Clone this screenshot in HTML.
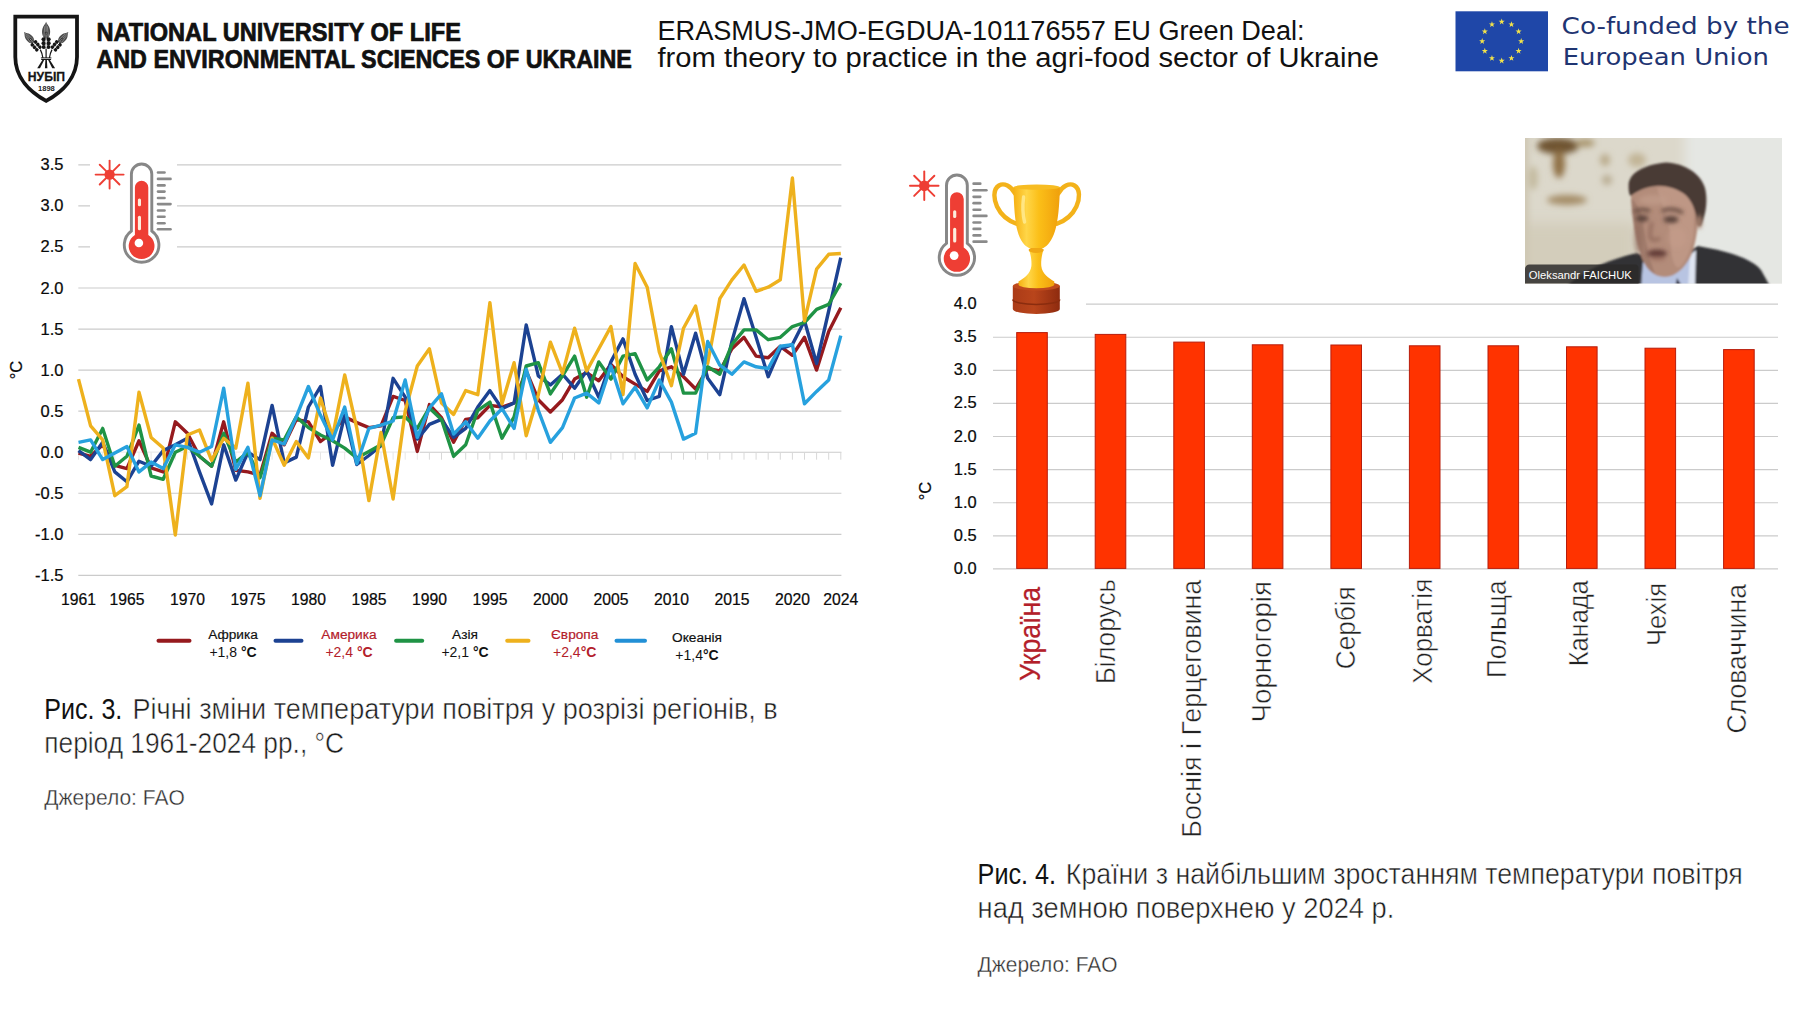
<!DOCTYPE html>
<html lang="uk"><head><meta charset="utf-8"><title>EU Green Deal slide</title>
<style>
html,body{margin:0;padding:0;background:#fff;width:1814px;height:1016px;overflow:hidden}
svg{display:block;position:absolute;left:0;top:0}
.ls{font-family:"Liberation Sans","DejaVu Sans",sans-serif}
.lt{font-family:"Liberation Sans","DejaVu Sans",sans-serif;stroke:#fff;stroke-width:0.5px}
.lt2{font-family:"Liberation Sans","DejaVu Sans",sans-serif;stroke:#fff;stroke-width:0.35px}
.dv{font-family:"DejaVu Sans","Liberation Sans",sans-serif}
</style></head><body>
<svg width="1814" height="1016" viewBox="0 0 1814 1016">
<defs>
<filter id="b3" x="-50%" y="-50%" width="200%" height="200%"><feGaussianBlur stdDeviation="3"/></filter>
<filter id="b6" x="-50%" y="-50%" width="200%" height="200%"><feGaussianBlur stdDeviation="6"/></filter>
<filter id="b2" x="-50%" y="-50%" width="200%" height="200%"><feGaussianBlur stdDeviation="1.9"/></filter>
<filter id="b1" x="-50%" y="-50%" width="200%" height="200%"><feGaussianBlur stdDeviation="1.3"/></filter>
<filter id="b05" x="-10%" y="-10%" width="120%" height="120%"><feGaussianBlur stdDeviation="0.45"/></filter>
<clipPath id="vc"><rect x="0" y="0" width="257" height="145.5"/></clipPath>
<linearGradient id="gold" x1="0" x2="1" y1="0" y2="0"><stop offset="0" stop-color="#f6b012"/><stop offset="0.28" stop-color="#ffd648"/><stop offset="0.55" stop-color="#fbbf18"/><stop offset="1" stop-color="#f0a00c"/></linearGradient>
<linearGradient id="base" x1="0" x2="1" y1="0" y2="0"><stop offset="0" stop-color="#ab3b17"/><stop offset="0.45" stop-color="#b9451b"/><stop offset="1" stop-color="#8e2b0f"/></linearGradient>

<g id="thermo">
<rect x="90" y="156" width="87" height="112" fill="#fff"/>
<g stroke="#ee3e34" stroke-width="1.9" stroke-linecap="round">
<line x1="95.6" y1="174.6" x2="123.6" y2="174.6"/><line x1="109.6" y1="160.6" x2="109.6" y2="188.6"/>
<line x1="99.7" y1="164.7" x2="119.5" y2="184.5"/><line x1="99.7" y1="184.5" x2="119.5" y2="164.7"/></g>
<circle cx="109.6" cy="174.6" r="5.2" fill="#ee3e34"/>
<path d="M131.4 174.2 a10.2 10.2 0 0 1 20.4 0 V231 a17.3 17.3 0 1 1 -20.4 0 Z" fill="#fff" stroke="#878787" stroke-width="2.9"/>
<path d="M134.9 187.5 a6.7 6.7 0 0 1 13.4 0 V235 a12.9 12.9 0 1 1 -13.4 0 Z" fill="#ee3e34"/>
<rect x="137.9" y="198.6" width="3.1" height="7.6" rx="1.5" fill="#fdeedd"/>
<rect x="137.9" y="215.8" width="3.1" height="14.4" rx="1.5" fill="#fdeedd"/>
<circle cx="138.9" cy="243" r="4.3" fill="#fff"/>
<g stroke="#8a8a8a" stroke-width="2.6" stroke-linecap="round">
<line x1="158" y1="172.5" x2="164.5" y2="172.5"/><line x1="158" y1="178.9" x2="170.5" y2="178.9"/>
<line x1="158" y1="185.4" x2="164.5" y2="185.4"/><line x1="158" y1="191.6" x2="164.5" y2="191.6"/>
<line x1="158" y1="198" x2="164.5" y2="198"/><line x1="158" y1="204.1" x2="170.5" y2="204.1"/>
<line x1="158" y1="210.5" x2="164.5" y2="210.5"/><line x1="158" y1="216.8" x2="164.5" y2="216.8"/>
<line x1="158" y1="223.2" x2="164.5" y2="223.2"/><line x1="158" y1="229.3" x2="170.5" y2="229.3"/></g>
</g>
</defs>
<rect width="1814" height="1016" fill="#fff"/>
<g id="logo">
<path d="M15.3 16.7 H77 V57 C77 77.5 62.5 92 46.15 100.9 C29.8 92 15.3 77.5 15.3 57 Z" fill="#fff" stroke="#151515" stroke-width="3.8" stroke-linejoin="miter"/>
<defs><g id="ear">
<path d="M0 -11 C-4.8 -13 -5.4 -20 -3.2 -24.5 C-2 -26.5 -0.8 -27.5 0 -29.8 C0.8 -27.5 2 -26.5 3.2 -24.5 C5.4 -20 4.8 -13 0 -11 Z" fill="#4d4d4d"/>
<path d="M0 -12 V-28 M-2.4 -14 L-1.4 -25 M2.4 -14 L1.4 -25" stroke="#b5b5b5" stroke-width="0.55" fill="none"/>
<circle cx="0" cy="-17.5" r="1.5" fill="#222"/><circle cx="0" cy="-17.5" r="0.6" fill="#ddd"/>
<g fill="#161616">
<ellipse cx="-2.5" cy="-2.4" rx="2.3" ry="2.2"/><ellipse cx="2.5" cy="-2.4" rx="2.3" ry="2.2"/>
<ellipse cx="-2.6" cy="-6.6" rx="2.4" ry="2.2"/><ellipse cx="2.6" cy="-6.6" rx="2.4" ry="2.2"/>
<ellipse cx="-2.6" cy="-10.8" rx="2.4" ry="2.2"/><ellipse cx="2.6" cy="-10.8" rx="2.4" ry="2.2"/>
</g>
<circle cx="0" cy="-2.6" r="0.75" fill="#fff"/><circle cx="0" cy="-6.8" r="0.75" fill="#fff"/><circle cx="0" cy="-11" r="0.75" fill="#fff"/>
</g></defs>
<use href="#ear" transform="translate(46.1,49.2) scale(0.92)"/>
<use href="#ear" transform="translate(39.6,49.9) rotate(-41) scale(0.8)"/>
<use href="#ear" transform="translate(52.7,49.9) rotate(41) scale(0.8)"/>
<g stroke="#161616" stroke-width="1.2" fill="none" stroke-linecap="butt">
<path d="M46.1 48.8 V58"/><path d="M40.3 49.6 C41.6 52 42.4 54.5 42.9 58"/><path d="M52 49.6 C50.7 52 49.9 54.5 49.4 58"/>
<path d="M40.9 57.9 H51.4 M41.2 59.5 H51.1" stroke-width="1"/>
</g>
<g fill="#161616">
<path d="M42.4 60 L44.2 60 L40 68.2 L37.2 68.2 Z"/>
<path d="M45.4 60 L46.9 60 L47.4 68.2 L44.9 68.2 Z"/>
<path d="M48.1 60 L49.9 60 L55.1 68.2 L52.3 68.2 Z"/>
</g>
<text x="27.8" y="80.9" font-size="12.8" font-weight="bold" class="ls" fill="#151515" textLength="37.2" lengthAdjust="spacingAndGlyphs" stroke="#151515" stroke-width="0.3">НУБІП</text>
<text x="38" y="90.5" font-size="7.4" font-weight="bold" class="ls" fill="#222" textLength="16.8" lengthAdjust="spacingAndGlyphs">1898</text>
</g>

<text x="96.4" y="41.4" font-size="25.2" fill="#111" class="ls" font-weight="bold" textLength="364.5" lengthAdjust="spacingAndGlyphs" stroke="#111" stroke-width="0.7">NATIONAL UNIVERSITY OF LIFE</text>
<text x="96.4" y="67.7" font-size="25.2" fill="#111" class="ls" font-weight="bold" textLength="535.5" lengthAdjust="spacingAndGlyphs" stroke="#111" stroke-width="0.7">AND ENVIRONMENTAL SCIENCES OF UKRAINE</text>
<text x="657.5" y="39.8" font-size="27" fill="#111" class="ls" textLength="647" lengthAdjust="spacingAndGlyphs" >ERASMUS-JMO-EGDUA-101176557 EU Green Deal:</text>
<text x="657.5" y="66.8" font-size="27" fill="#111" class="ls" textLength="721.5" lengthAdjust="spacingAndGlyphs" >from theory to practice in the agri-food sector of Ukraine</text>
<rect x="1455.5" y="11.3" width="92.5" height="60" fill="#1f47a8"/>
<polygon points="1501.70,18.60 1502.45,20.76 1504.74,20.81 1502.92,22.20 1503.58,24.39 1501.70,23.08 1499.82,24.39 1500.48,22.20 1498.66,20.81 1500.95,20.76" fill="#f3e34a"/>
<polygon points="1511.45,21.21 1512.20,23.38 1514.49,23.42 1512.67,24.81 1513.33,27.00 1511.45,25.69 1509.57,27.00 1510.23,24.81 1508.41,23.42 1510.70,23.38" fill="#f3e34a"/>
<polygon points="1518.59,28.35 1519.34,30.51 1521.63,30.56 1519.80,31.95 1520.47,34.14 1518.59,32.83 1516.71,34.14 1517.37,31.95 1515.54,30.56 1517.84,30.51" fill="#f3e34a"/>
<polygon points="1521.20,38.10 1521.95,40.26 1524.24,40.31 1522.42,41.70 1523.08,43.89 1521.20,42.58 1519.32,43.89 1519.98,41.70 1518.16,40.31 1520.45,40.26" fill="#f3e34a"/>
<polygon points="1518.59,47.85 1519.34,50.01 1521.63,50.06 1519.80,51.45 1520.47,53.64 1518.59,52.33 1516.71,53.64 1517.37,51.45 1515.54,50.06 1517.84,50.01" fill="#f3e34a"/>
<polygon points="1511.45,54.99 1512.20,57.15 1514.49,57.20 1512.67,58.58 1513.33,60.78 1511.45,59.47 1509.57,60.78 1510.23,58.58 1508.41,57.20 1510.70,57.15" fill="#f3e34a"/>
<polygon points="1501.70,57.60 1502.45,59.76 1504.74,59.81 1502.92,61.20 1503.58,63.39 1501.70,62.08 1499.82,63.39 1500.48,61.20 1498.66,59.81 1500.95,59.76" fill="#f3e34a"/>
<polygon points="1491.95,54.99 1492.70,57.15 1494.99,57.20 1493.17,58.58 1493.83,60.78 1491.95,59.47 1490.07,60.78 1490.73,58.58 1488.91,57.20 1491.20,57.15" fill="#f3e34a"/>
<polygon points="1484.81,47.85 1485.56,50.01 1487.86,50.06 1486.03,51.45 1486.69,53.64 1484.81,52.33 1482.93,53.64 1483.60,51.45 1481.77,50.06 1484.06,50.01" fill="#f3e34a"/>
<polygon points="1482.20,38.10 1482.95,40.26 1485.24,40.31 1483.42,41.70 1484.08,43.89 1482.20,42.58 1480.32,43.89 1480.98,41.70 1479.16,40.31 1481.45,40.26" fill="#f3e34a"/>
<polygon points="1484.81,28.35 1485.56,30.51 1487.86,30.56 1486.03,31.95 1486.69,34.14 1484.81,32.83 1482.93,34.14 1483.60,31.95 1481.77,30.56 1484.06,30.51" fill="#f3e34a"/>
<polygon points="1491.95,21.21 1492.70,23.38 1494.99,23.42 1493.17,24.81 1493.83,27.00 1491.95,25.69 1490.07,27.00 1490.73,24.81 1488.91,23.42 1491.20,23.38" fill="#f3e34a"/>
<text x="1561.6" y="34" font-size="23" fill="#1f3572" class="dv" textLength="228" lengthAdjust="spacingAndGlyphs" >Co-funded by the</text>
<text x="1562.7" y="65" font-size="23" fill="#1f3572" class="dv" textLength="206.2" lengthAdjust="spacingAndGlyphs" >European Union</text>
<line x1="78.3" y1="164.9" x2="841.4" y2="164.9" stroke="#cbcbcb" stroke-width="1.15"/>
<text x="63.5" y="170.35000000000002" font-size="15.7" fill="#0a0a0a" class="ls" text-anchor="end" textLength="22.9" lengthAdjust="spacingAndGlyphs" stroke="#0a0a0a" stroke-width="0.22">3.5</text>
<line x1="78.3" y1="205.9" x2="841.4" y2="205.9" stroke="#cbcbcb" stroke-width="1.15"/>
<text x="63.5" y="211.4" font-size="15.7" fill="#0a0a0a" class="ls" text-anchor="end" textLength="22.9" lengthAdjust="spacingAndGlyphs" stroke="#0a0a0a" stroke-width="0.22">3.0</text>
<line x1="78.3" y1="246.9" x2="841.4" y2="246.9" stroke="#cbcbcb" stroke-width="1.15"/>
<text x="63.5" y="252.45" font-size="15.7" fill="#0a0a0a" class="ls" text-anchor="end" textLength="22.9" lengthAdjust="spacingAndGlyphs" stroke="#0a0a0a" stroke-width="0.22">2.5</text>
<line x1="78.3" y1="288.0" x2="841.4" y2="288.0" stroke="#cbcbcb" stroke-width="1.15"/>
<text x="63.5" y="293.5" font-size="15.7" fill="#0a0a0a" class="ls" text-anchor="end" textLength="22.9" lengthAdjust="spacingAndGlyphs" stroke="#0a0a0a" stroke-width="0.22">2.0</text>
<line x1="78.3" y1="329.1" x2="841.4" y2="329.1" stroke="#cbcbcb" stroke-width="1.15"/>
<text x="63.5" y="334.55" font-size="15.7" fill="#0a0a0a" class="ls" text-anchor="end" textLength="22.9" lengthAdjust="spacingAndGlyphs" stroke="#0a0a0a" stroke-width="0.22">1.5</text>
<line x1="78.3" y1="370.1" x2="841.4" y2="370.1" stroke="#cbcbcb" stroke-width="1.15"/>
<text x="63.5" y="375.6" font-size="15.7" fill="#0a0a0a" class="ls" text-anchor="end" textLength="22.9" lengthAdjust="spacingAndGlyphs" stroke="#0a0a0a" stroke-width="0.22">1.0</text>
<line x1="78.3" y1="411.1" x2="841.4" y2="411.1" stroke="#cbcbcb" stroke-width="1.15"/>
<text x="63.5" y="416.65" font-size="15.7" fill="#0a0a0a" class="ls" text-anchor="end" textLength="22.9" lengthAdjust="spacingAndGlyphs" stroke="#0a0a0a" stroke-width="0.22">0.5</text>
<line x1="78.3" y1="452.2" x2="420" y2="452.2" stroke="#ececec" stroke-width="1.2"/>
<line x1="420" y1="452.2" x2="841.4" y2="452.2" stroke="#cbcbcb" stroke-width="1.15"/>
<text x="63.5" y="457.7" font-size="15.7" fill="#0a0a0a" class="ls" text-anchor="end" textLength="22.9" lengthAdjust="spacingAndGlyphs" stroke="#0a0a0a" stroke-width="0.22">0.0</text>
<line x1="78.3" y1="493.2" x2="841.4" y2="493.2" stroke="#cbcbcb" stroke-width="1.15"/>
<text x="63.5" y="498.75" font-size="15.7" fill="#0a0a0a" class="ls" text-anchor="end" textLength="28.4" lengthAdjust="spacingAndGlyphs" stroke="#0a0a0a" stroke-width="0.22">-0.5</text>
<line x1="78.3" y1="534.3" x2="841.4" y2="534.3" stroke="#cbcbcb" stroke-width="1.15"/>
<text x="63.5" y="539.8" font-size="15.7" fill="#0a0a0a" class="ls" text-anchor="end" textLength="28.4" lengthAdjust="spacingAndGlyphs" stroke="#0a0a0a" stroke-width="0.22">-1.0</text>
<line x1="78.3" y1="575.4" x2="841.4" y2="575.4" stroke="#cbcbcb" stroke-width="1.15"/>
<text x="63.5" y="580.85" font-size="15.7" fill="#0a0a0a" class="ls" text-anchor="end" textLength="28.4" lengthAdjust="spacingAndGlyphs" stroke="#0a0a0a" stroke-width="0.22">-1.5</text>
<line x1="78.5" y1="452.2" x2="78.5" y2="459.7" stroke="#e6e6e6" stroke-width="1"/>
<line x1="90.6" y1="452.2" x2="90.6" y2="459.7" stroke="#e6e6e6" stroke-width="1"/>
<line x1="102.7" y1="452.2" x2="102.7" y2="459.7" stroke="#e6e6e6" stroke-width="1"/>
<line x1="114.8" y1="452.2" x2="114.8" y2="459.7" stroke="#e6e6e6" stroke-width="1"/>
<line x1="126.9" y1="452.2" x2="126.9" y2="459.7" stroke="#e6e6e6" stroke-width="1"/>
<line x1="139.0" y1="452.2" x2="139.0" y2="459.7" stroke="#e6e6e6" stroke-width="1"/>
<line x1="151.1" y1="452.2" x2="151.1" y2="459.7" stroke="#e6e6e6" stroke-width="1"/>
<line x1="163.2" y1="452.2" x2="163.2" y2="459.7" stroke="#e6e6e6" stroke-width="1"/>
<line x1="175.3" y1="452.2" x2="175.3" y2="459.7" stroke="#e6e6e6" stroke-width="1"/>
<line x1="187.4" y1="452.2" x2="187.4" y2="459.7" stroke="#e6e6e6" stroke-width="1"/>
<line x1="199.5" y1="452.2" x2="199.5" y2="459.7" stroke="#e6e6e6" stroke-width="1"/>
<line x1="211.6" y1="452.2" x2="211.6" y2="459.7" stroke="#e6e6e6" stroke-width="1"/>
<line x1="223.7" y1="452.2" x2="223.7" y2="459.7" stroke="#e6e6e6" stroke-width="1"/>
<line x1="235.8" y1="452.2" x2="235.8" y2="459.7" stroke="#e6e6e6" stroke-width="1"/>
<line x1="247.9" y1="452.2" x2="247.9" y2="459.7" stroke="#e6e6e6" stroke-width="1"/>
<line x1="260.0" y1="452.2" x2="260.0" y2="459.7" stroke="#e6e6e6" stroke-width="1"/>
<line x1="272.1" y1="452.2" x2="272.1" y2="459.7" stroke="#e6e6e6" stroke-width="1"/>
<line x1="284.2" y1="452.2" x2="284.2" y2="459.7" stroke="#e6e6e6" stroke-width="1"/>
<line x1="296.3" y1="452.2" x2="296.3" y2="459.7" stroke="#e6e6e6" stroke-width="1"/>
<line x1="308.4" y1="452.2" x2="308.4" y2="459.7" stroke="#e6e6e6" stroke-width="1"/>
<line x1="320.5" y1="452.2" x2="320.5" y2="459.7" stroke="#e6e6e6" stroke-width="1"/>
<line x1="332.6" y1="452.2" x2="332.6" y2="459.7" stroke="#e6e6e6" stroke-width="1"/>
<line x1="344.7" y1="452.2" x2="344.7" y2="459.7" stroke="#e6e6e6" stroke-width="1"/>
<line x1="356.8" y1="452.2" x2="356.8" y2="459.7" stroke="#e6e6e6" stroke-width="1"/>
<line x1="368.9" y1="452.2" x2="368.9" y2="459.7" stroke="#e6e6e6" stroke-width="1"/>
<line x1="381.0" y1="452.2" x2="381.0" y2="459.7" stroke="#e6e6e6" stroke-width="1"/>
<line x1="393.1" y1="452.2" x2="393.1" y2="459.7" stroke="#e6e6e6" stroke-width="1"/>
<line x1="405.2" y1="452.2" x2="405.2" y2="459.7" stroke="#e6e6e6" stroke-width="1"/>
<line x1="417.3" y1="452.2" x2="417.3" y2="459.7" stroke="#e6e6e6" stroke-width="1"/>
<line x1="429.4" y1="452.2" x2="429.4" y2="459.7" stroke="#d8d8d8" stroke-width="1"/>
<line x1="441.5" y1="452.2" x2="441.5" y2="459.7" stroke="#d8d8d8" stroke-width="1"/>
<line x1="453.6" y1="452.2" x2="453.6" y2="459.7" stroke="#d8d8d8" stroke-width="1"/>
<line x1="465.7" y1="452.2" x2="465.7" y2="459.7" stroke="#d8d8d8" stroke-width="1"/>
<line x1="477.8" y1="452.2" x2="477.8" y2="459.7" stroke="#d8d8d8" stroke-width="1"/>
<line x1="489.9" y1="452.2" x2="489.9" y2="459.7" stroke="#d8d8d8" stroke-width="1"/>
<line x1="502.0" y1="452.2" x2="502.0" y2="459.7" stroke="#d8d8d8" stroke-width="1"/>
<line x1="514.1" y1="452.2" x2="514.1" y2="459.7" stroke="#d8d8d8" stroke-width="1"/>
<line x1="526.2" y1="452.2" x2="526.2" y2="459.7" stroke="#d8d8d8" stroke-width="1"/>
<line x1="538.3" y1="452.2" x2="538.3" y2="459.7" stroke="#d8d8d8" stroke-width="1"/>
<line x1="550.4" y1="452.2" x2="550.4" y2="459.7" stroke="#d8d8d8" stroke-width="1"/>
<line x1="562.5" y1="452.2" x2="562.5" y2="459.7" stroke="#d8d8d8" stroke-width="1"/>
<line x1="574.6" y1="452.2" x2="574.6" y2="459.7" stroke="#d8d8d8" stroke-width="1"/>
<line x1="586.7" y1="452.2" x2="586.7" y2="459.7" stroke="#d8d8d8" stroke-width="1"/>
<line x1="598.8" y1="452.2" x2="598.8" y2="459.7" stroke="#d8d8d8" stroke-width="1"/>
<line x1="610.9" y1="452.2" x2="610.9" y2="459.7" stroke="#d8d8d8" stroke-width="1"/>
<line x1="623.0" y1="452.2" x2="623.0" y2="459.7" stroke="#d8d8d8" stroke-width="1"/>
<line x1="635.1" y1="452.2" x2="635.1" y2="459.7" stroke="#d8d8d8" stroke-width="1"/>
<line x1="647.2" y1="452.2" x2="647.2" y2="459.7" stroke="#d8d8d8" stroke-width="1"/>
<line x1="659.3" y1="452.2" x2="659.3" y2="459.7" stroke="#d8d8d8" stroke-width="1"/>
<line x1="671.4" y1="452.2" x2="671.4" y2="459.7" stroke="#d8d8d8" stroke-width="1"/>
<line x1="683.5" y1="452.2" x2="683.5" y2="459.7" stroke="#d8d8d8" stroke-width="1"/>
<line x1="695.6" y1="452.2" x2="695.6" y2="459.7" stroke="#d8d8d8" stroke-width="1"/>
<line x1="707.7" y1="452.2" x2="707.7" y2="459.7" stroke="#d8d8d8" stroke-width="1"/>
<line x1="719.8" y1="452.2" x2="719.8" y2="459.7" stroke="#d8d8d8" stroke-width="1"/>
<line x1="731.9" y1="452.2" x2="731.9" y2="459.7" stroke="#d8d8d8" stroke-width="1"/>
<line x1="744.0" y1="452.2" x2="744.0" y2="459.7" stroke="#d8d8d8" stroke-width="1"/>
<line x1="756.1" y1="452.2" x2="756.1" y2="459.7" stroke="#d8d8d8" stroke-width="1"/>
<line x1="768.2" y1="452.2" x2="768.2" y2="459.7" stroke="#d8d8d8" stroke-width="1"/>
<line x1="780.3" y1="452.2" x2="780.3" y2="459.7" stroke="#d8d8d8" stroke-width="1"/>
<line x1="792.4" y1="452.2" x2="792.4" y2="459.7" stroke="#d8d8d8" stroke-width="1"/>
<line x1="804.5" y1="452.2" x2="804.5" y2="459.7" stroke="#d8d8d8" stroke-width="1"/>
<line x1="816.6" y1="452.2" x2="816.6" y2="459.7" stroke="#d8d8d8" stroke-width="1"/>
<line x1="828.7" y1="452.2" x2="828.7" y2="459.7" stroke="#d8d8d8" stroke-width="1"/>
<line x1="840.8" y1="452.2" x2="840.8" y2="459.7" stroke="#d8d8d8" stroke-width="1"/>
<use href="#thermo"/>
<polyline points="78.5,453.0 90.6,456.3 102.7,444.8 114.8,465.3 126.9,468.6 139.0,440.7 151.1,467.8 163.2,471.9 175.3,421.8 187.4,433.3 199.5,456.3 211.6,466.2 223.7,421.8 235.8,470.3 247.9,471.9 260.0,475.2 272.1,433.3 284.2,444.8 296.3,419.4 308.4,421.8 320.5,441.5 332.6,432.5 344.7,416.9 356.8,422.6 368.9,427.6 381.0,425.9 393.1,396.4 405.2,400.5 417.3,451.4 429.4,404.6 441.5,417.7 453.6,442.3 465.7,419.4 477.8,417.7 489.9,405.4 502.0,407.0 514.1,402.9 526.2,370.9 538.3,399.7 550.4,412.0 562.5,399.7 574.6,379.1 586.7,372.6 598.8,380.8 610.9,364.4 623.0,376.7 635.1,384.1 647.2,391.4 659.3,370.9 671.4,366.8 683.5,376.7 695.6,389.0 707.7,368.5 719.8,370.9 731.9,348.8 744.0,337.3 756.1,356.1 768.2,357.8 780.3,346.3 792.4,355.3 804.5,337.3 816.6,370.1 828.7,331.5 840.8,307.7" fill="none" stroke="#961a1e" stroke-width="3.4" stroke-linejoin="round" stroke-linecap="butt"/>
<polyline points="78.5,450.6 90.6,459.6 102.7,442.3 114.8,471.9 126.9,481.8 139.0,461.2 151.1,466.2 163.2,450.6 175.3,444.8 187.4,438.2 199.5,471.9 211.6,503.9 223.7,444.8 235.8,480.1 247.9,452.2 260.0,459.6 272.1,405.4 284.2,462.9 296.3,457.1 308.4,407.0 320.5,386.5 332.6,465.3 344.7,415.3 356.8,464.5 368.9,455.5 381.0,445.6 393.1,378.3 405.2,397.2 417.3,439.1 429.4,424.3 441.5,419.4 453.6,437.4 465.7,428.4 477.8,407.0 489.9,390.6 502.0,408.7 514.1,402.9 526.2,324.9 538.3,375.8 550.4,384.9 562.5,374.2 574.6,388.2 586.7,370.9 598.8,397.2 610.9,361.9 623.0,338.9 635.1,374.2 647.2,400.5 659.3,396.4 671.4,326.6 683.5,374.2 695.6,333.2 707.7,378.3 719.8,394.7 731.9,341.4 744.0,298.7 756.1,337.3 768.2,376.7 780.3,348.8 792.4,344.6 804.5,320.8 816.6,363.5 828.7,311.0 840.8,257.6" fill="none" stroke="#1c4292" stroke-width="3.4" stroke-linejoin="round" stroke-linecap="butt"/>
<polyline points="78.5,447.3 90.6,452.2 102.7,428.4 114.8,466.2 126.9,456.3 139.0,425.1 151.1,476.0 163.2,479.3 175.3,452.2 187.4,446.5 199.5,456.3 211.6,466.2 223.7,433.3 235.8,462.1 247.9,452.2 260.0,477.7 272.1,438.2 284.2,439.9 296.3,416.9 308.4,427.6 320.5,435.0 332.6,440.7 344.7,448.1 356.8,457.9 368.9,451.4 381.0,444.8 393.1,417.7 405.2,416.9 417.3,428.4 429.4,407.9 441.5,419.4 453.6,456.3 465.7,444.8 477.8,410.3 489.9,402.1 502.0,438.2 514.1,416.9 526.2,366.0 538.3,362.7 550.4,393.9 562.5,375.8 574.6,356.1 586.7,397.2 598.8,361.9 610.9,379.1 623.0,356.1 635.1,353.7 647.2,380.0 659.3,366.8 671.4,348.8 683.5,393.1 695.6,393.1 707.7,366.8 719.8,374.2 731.9,344.6 744.0,329.9 756.1,329.9 768.2,339.7 780.3,337.3 792.4,326.6 804.5,322.5 816.6,309.3 828.7,304.4 840.8,283.1" fill="none" stroke="#1f9345" stroke-width="3.4" stroke-linejoin="round" stroke-linecap="butt"/>
<polyline points="78.5,379.1 90.6,425.9 102.7,439.9 114.8,495.7 126.9,486.7 139.0,392.3 151.1,437.4 163.2,448.1 175.3,535.1 187.4,435.0 199.5,430.0 211.6,460.4 223.7,438.2 235.8,448.1 247.9,383.2 260.0,498.2 272.1,438.2 284.2,465.3 296.3,441.5 308.4,457.9 320.5,398.0 332.6,436.6 344.7,375.0 356.8,428.4 368.9,500.6 381.0,432.5 393.1,499.0 405.2,411.1 417.3,366.0 429.4,348.8 441.5,402.9 453.6,414.4 465.7,390.6 477.8,394.7 489.9,302.8 502.0,403.8 514.1,362.7 526.2,435.8 538.3,394.7 550.4,342.2 562.5,373.4 574.6,328.2 586.7,370.9 598.8,348.8 610.9,326.6 623.0,394.7 635.1,263.4 647.2,287.2 659.3,352.0 671.4,385.7 683.5,328.2 695.6,306.1 707.7,363.5 719.8,298.7 731.9,279.8 744.0,265.0 756.1,291.3 768.2,287.2 780.3,279.8 792.4,178.0 804.5,320.8 816.6,269.1 828.7,254.3 840.8,253.5" fill="none" stroke="#eeb11d" stroke-width="3.4" stroke-linejoin="round" stroke-linecap="butt"/>
<polyline points="78.5,442.3 90.6,439.9 102.7,459.6 114.8,453.0 126.9,446.5 139.0,471.9 151.1,462.1 163.2,468.6 175.3,444.8 187.4,447.3 199.5,452.2 211.6,446.5 223.7,388.2 235.8,469.4 247.9,447.3 260.0,495.7 272.1,439.9 284.2,444.0 296.3,416.9 308.4,386.5 320.5,415.3 332.6,439.9 344.7,407.0 356.8,463.7 368.9,428.4 381.0,425.1 393.1,421.0 405.2,380.0 417.3,437.4 429.4,407.9 441.5,393.9 453.6,434.1 465.7,421.8 477.8,438.2 489.9,421.0 502.0,408.7 514.1,428.4 526.2,369.3 538.3,410.3 550.4,442.3 562.5,427.6 574.6,398.0 586.7,393.1 598.8,402.9 610.9,366.0 623.0,403.8 635.1,387.3 647.2,407.9 659.3,380.0 671.4,402.1 683.5,439.1 695.6,433.3 707.7,341.4 719.8,365.2 731.9,374.2 744.0,361.9 756.1,366.8 768.2,368.5 780.3,346.3 792.4,344.6 804.5,403.8 816.6,391.4 828.7,380.0 840.8,335.6" fill="none" stroke="#27a1de" stroke-width="3.4" stroke-linejoin="round" stroke-linecap="butt"/>
<text x="78.5" y="605" font-size="15.6" fill="#0a0a0a" class="ls" text-anchor="middle" textLength="35" lengthAdjust="spacingAndGlyphs" stroke="#0a0a0a" stroke-width="0.22">1961</text>
<text x="126.9" y="605" font-size="15.6" fill="#0a0a0a" class="ls" text-anchor="middle" textLength="35" lengthAdjust="spacingAndGlyphs" stroke="#0a0a0a" stroke-width="0.22">1965</text>
<text x="187.4" y="605" font-size="15.6" fill="#0a0a0a" class="ls" text-anchor="middle" textLength="35" lengthAdjust="spacingAndGlyphs" stroke="#0a0a0a" stroke-width="0.22">1970</text>
<text x="247.9" y="605" font-size="15.6" fill="#0a0a0a" class="ls" text-anchor="middle" textLength="35" lengthAdjust="spacingAndGlyphs" stroke="#0a0a0a" stroke-width="0.22">1975</text>
<text x="308.4" y="605" font-size="15.6" fill="#0a0a0a" class="ls" text-anchor="middle" textLength="35" lengthAdjust="spacingAndGlyphs" stroke="#0a0a0a" stroke-width="0.22">1980</text>
<text x="368.9" y="605" font-size="15.6" fill="#0a0a0a" class="ls" text-anchor="middle" textLength="35" lengthAdjust="spacingAndGlyphs" stroke="#0a0a0a" stroke-width="0.22">1985</text>
<text x="429.4" y="605" font-size="15.6" fill="#0a0a0a" class="ls" text-anchor="middle" textLength="35" lengthAdjust="spacingAndGlyphs" stroke="#0a0a0a" stroke-width="0.22">1990</text>
<text x="489.9" y="605" font-size="15.6" fill="#0a0a0a" class="ls" text-anchor="middle" textLength="35" lengthAdjust="spacingAndGlyphs" stroke="#0a0a0a" stroke-width="0.22">1995</text>
<text x="550.4" y="605" font-size="15.6" fill="#0a0a0a" class="ls" text-anchor="middle" textLength="35" lengthAdjust="spacingAndGlyphs" stroke="#0a0a0a" stroke-width="0.22">2000</text>
<text x="610.9" y="605" font-size="15.6" fill="#0a0a0a" class="ls" text-anchor="middle" textLength="35" lengthAdjust="spacingAndGlyphs" stroke="#0a0a0a" stroke-width="0.22">2005</text>
<text x="671.4" y="605" font-size="15.6" fill="#0a0a0a" class="ls" text-anchor="middle" textLength="35" lengthAdjust="spacingAndGlyphs" stroke="#0a0a0a" stroke-width="0.22">2010</text>
<text x="731.9" y="605" font-size="15.6" fill="#0a0a0a" class="ls" text-anchor="middle" textLength="35" lengthAdjust="spacingAndGlyphs" stroke="#0a0a0a" stroke-width="0.22">2015</text>
<text x="792.4" y="605" font-size="15.6" fill="#0a0a0a" class="ls" text-anchor="middle" textLength="35" lengthAdjust="spacingAndGlyphs" stroke="#0a0a0a" stroke-width="0.22">2020</text>
<text x="840.8" y="605" font-size="15.6" fill="#0a0a0a" class="ls" text-anchor="middle" textLength="35" lengthAdjust="spacingAndGlyphs" stroke="#0a0a0a" stroke-width="0.22">2024</text>
<text transform="translate(21.5,370) rotate(-90)" font-size="16.5" class="ls" text-anchor="middle" fill="#0a0a0a" stroke="#0a0a0a" stroke-width="0.25">°C</text>
<line x1="158.5" y1="640.8" x2="189.5" y2="640.8" stroke="#961a1e" stroke-width="4" stroke-linecap="round"/>
<text x="233" y="639" font-size="13.7" fill="#111" class="ls" text-anchor="middle" stroke="#111" stroke-width="0.2">Африка</text>
<text x="233" y="657" font-size="14" fill="#111" class="ls" text-anchor="middle">+1,8<tspan font-weight="bold"> °C</tspan></text>
<line x1="275.5" y1="640.8" x2="301.5" y2="640.8" stroke="#1c4292" stroke-width="4" stroke-linecap="round"/>
<text x="349" y="639" font-size="13.7" fill="#b3202a" class="ls" text-anchor="middle" stroke="#b3202a" stroke-width="0.2">Америка</text>
<text x="349" y="657" font-size="14" fill="#b3202a" class="ls" text-anchor="middle">+2,4<tspan font-weight="bold"> °C</tspan></text>
<line x1="396.1" y1="640.8" x2="422.2" y2="640.8" stroke="#1f9345" stroke-width="4" stroke-linecap="round"/>
<text x="465" y="639" font-size="13.7" fill="#111" class="ls" text-anchor="middle" stroke="#111" stroke-width="0.2">Азія</text>
<text x="465" y="657" font-size="14" fill="#111" class="ls" text-anchor="middle">+2,1<tspan font-weight="bold"> °C</tspan></text>
<line x1="507.2" y1="640.8" x2="528.5" y2="640.8" stroke="#eeb11d" stroke-width="4" stroke-linecap="round"/>
<text x="574.7" y="639" font-size="13.7" fill="#b3202a" class="ls" text-anchor="middle" stroke="#b3202a" stroke-width="0.2">Європа</text>
<text x="574.7" y="657" font-size="14" fill="#b3202a" class="ls" text-anchor="middle">+2,4<tspan font-weight="bold">°C</tspan></text>
<line x1="616.5" y1="640.8" x2="645.0" y2="640.8" stroke="#2290d6" stroke-width="4" stroke-linecap="round"/>
<text x="697" y="641.5" font-size="13.7" fill="#111" class="ls" text-anchor="middle" stroke="#111" stroke-width="0.2">Океанія</text>
<text x="697" y="659.5" font-size="14" fill="#111" class="ls" text-anchor="middle">+1,4<tspan font-weight="bold">°C</tspan></text>
<text x="44.3" y="718.8" font-size="29.4" fill="#111" class="ls" textLength="78" lengthAdjust="spacingAndGlyphs" >Рис. 3.</text>
<text x="132.5" y="718.8" font-size="29.4" fill="#1c1c1c" class="lt" textLength="645.2" lengthAdjust="spacingAndGlyphs" >Річні зміни температури повітря у розрізі регіонів, в</text>
<text x="44.3" y="752.8" font-size="29.4" fill="#1c1c1c" class="lt" textLength="299.7" lengthAdjust="spacingAndGlyphs" >період 1961-2024 рр., °C</text>
<text x="44.3" y="805.4" font-size="22.9" fill="#2e2e2e" class="lt2" textLength="140.5" lengthAdjust="spacingAndGlyphs" >Джерело: FAO</text>
<line x1="993" y1="568.9" x2="1778" y2="568.9" stroke="#cbcbcb" stroke-width="1.15"/>
<text x="976.7" y="573.9" font-size="15.7" fill="#0a0a0a" class="ls" text-anchor="end" textLength="22.9" lengthAdjust="spacingAndGlyphs" stroke="#0a0a0a" stroke-width="0.22">0.0</text>
<line x1="993" y1="535.8" x2="1778" y2="535.8" stroke="#cbcbcb" stroke-width="1.15"/>
<text x="976.7" y="540.8" font-size="15.7" fill="#0a0a0a" class="ls" text-anchor="end" textLength="22.9" lengthAdjust="spacingAndGlyphs" stroke="#0a0a0a" stroke-width="0.22">0.5</text>
<line x1="993" y1="502.7" x2="1778" y2="502.7" stroke="#cbcbcb" stroke-width="1.15"/>
<text x="976.7" y="507.7" font-size="15.7" fill="#0a0a0a" class="ls" text-anchor="end" textLength="22.9" lengthAdjust="spacingAndGlyphs" stroke="#0a0a0a" stroke-width="0.22">1.0</text>
<line x1="993" y1="469.6" x2="1778" y2="469.6" stroke="#cbcbcb" stroke-width="1.15"/>
<text x="976.7" y="474.59999999999997" font-size="15.7" fill="#0a0a0a" class="ls" text-anchor="end" textLength="22.9" lengthAdjust="spacingAndGlyphs" stroke="#0a0a0a" stroke-width="0.22">1.5</text>
<line x1="993" y1="436.5" x2="1778" y2="436.5" stroke="#cbcbcb" stroke-width="1.15"/>
<text x="976.7" y="441.5" font-size="15.7" fill="#0a0a0a" class="ls" text-anchor="end" textLength="22.9" lengthAdjust="spacingAndGlyphs" stroke="#0a0a0a" stroke-width="0.22">2.0</text>
<line x1="993" y1="403.4" x2="1778" y2="403.4" stroke="#cbcbcb" stroke-width="1.15"/>
<text x="976.7" y="408.4" font-size="15.7" fill="#0a0a0a" class="ls" text-anchor="end" textLength="22.9" lengthAdjust="spacingAndGlyphs" stroke="#0a0a0a" stroke-width="0.22">2.5</text>
<line x1="993" y1="370.3" x2="1778" y2="370.3" stroke="#cbcbcb" stroke-width="1.15"/>
<text x="976.7" y="375.29999999999995" font-size="15.7" fill="#0a0a0a" class="ls" text-anchor="end" textLength="22.9" lengthAdjust="spacingAndGlyphs" stroke="#0a0a0a" stroke-width="0.22">3.0</text>
<line x1="993" y1="337.2" x2="1778" y2="337.2" stroke="#cbcbcb" stroke-width="1.15"/>
<text x="976.7" y="342.19999999999993" font-size="15.7" fill="#0a0a0a" class="ls" text-anchor="end" textLength="22.9" lengthAdjust="spacingAndGlyphs" stroke="#0a0a0a" stroke-width="0.22">3.5</text>
<line x1="1086" y1="304.1" x2="1778" y2="304.1" stroke="#cbcbcb" stroke-width="1.15"/>
<text x="976.7" y="309.09999999999997" font-size="15.7" fill="#0a0a0a" class="ls" text-anchor="end" textLength="22.9" lengthAdjust="spacingAndGlyphs" stroke="#0a0a0a" stroke-width="0.22">4.0</text>
<text transform="translate(930.5,491) rotate(-90)" font-size="16.5" class="ls" text-anchor="middle" fill="#0a0a0a" stroke="#0a0a0a" stroke-width="0.25">°C</text>
<rect x="1016.7" y="332.6" width="30.6" height="235.8" fill="#ff3300" stroke="#b81c0a" stroke-width="1"/>
<text transform="translate(1039.7,587) rotate(-90)" font-size="28.6" class="ls" text-anchor="end" fill="#b3202a" stroke="#b3202a" stroke-width="0.25" textLength="94" lengthAdjust="spacingAndGlyphs">Україна</text>
<rect x="1095.2" y="334.4" width="30.6" height="234.0" fill="#ff3300" stroke="#b81c0a" stroke-width="1"/>
<text transform="translate(1114.9,579) rotate(-90)" font-size="28.2" class="lt" text-anchor="end" fill="#222" textLength="105" lengthAdjust="spacingAndGlyphs">Білорусь</text>
<rect x="1173.8" y="342.1" width="30.6" height="226.3" fill="#ff3300" stroke="#b81c0a" stroke-width="1"/>
<text transform="translate(1200.9,579.7) rotate(-90)" font-size="28.2" class="lt" text-anchor="end" fill="#222" textLength="258" lengthAdjust="spacingAndGlyphs">Боснія і Герцеговина</text>
<rect x="1252.3" y="344.8" width="30.6" height="223.6" fill="#ff3300" stroke="#b81c0a" stroke-width="1"/>
<text transform="translate(1271.2,581) rotate(-90)" font-size="28.2" class="lt" text-anchor="end" fill="#222" textLength="141.5" lengthAdjust="spacingAndGlyphs">Чорногорія</text>
<rect x="1330.9" y="345.0" width="30.6" height="223.4" fill="#ff3300" stroke="#b81c0a" stroke-width="1"/>
<text transform="translate(1354.9,586.2) rotate(-90)" font-size="28.2" class="lt" text-anchor="end" fill="#222" textLength="83" lengthAdjust="spacingAndGlyphs">Сербія</text>
<rect x="1409.4" y="345.8" width="30.6" height="222.6" fill="#ff3300" stroke="#b81c0a" stroke-width="1"/>
<text transform="translate(1432.3,578.8) rotate(-90)" font-size="28.2" class="lt" text-anchor="end" fill="#222" textLength="105" lengthAdjust="spacingAndGlyphs">Хорватія</text>
<rect x="1488.0" y="345.8" width="30.6" height="222.6" fill="#ff3300" stroke="#b81c0a" stroke-width="1"/>
<text transform="translate(1505.6,580.5) rotate(-90)" font-size="28.2" class="lt" text-anchor="end" fill="#222" textLength="97.5" lengthAdjust="spacingAndGlyphs">Польща</text>
<rect x="1566.5" y="346.8" width="30.6" height="221.6" fill="#ff3300" stroke="#b81c0a" stroke-width="1"/>
<text transform="translate(1587.8,580.3) rotate(-90)" font-size="28.2" class="lt" text-anchor="end" fill="#222" textLength="86" lengthAdjust="spacingAndGlyphs">Канада</text>
<rect x="1645.0" y="348.2" width="30.6" height="220.2" fill="#ff3300" stroke="#b81c0a" stroke-width="1"/>
<text transform="translate(1666.2,583) rotate(-90)" font-size="28.2" class="lt" text-anchor="end" fill="#222" textLength="63" lengthAdjust="spacingAndGlyphs">Чехія</text>
<rect x="1723.6" y="349.6" width="30.6" height="218.8" fill="#ff3300" stroke="#b81c0a" stroke-width="1"/>
<text transform="translate(1745.7,584) rotate(-90)" font-size="28.2" class="lt" text-anchor="end" fill="#222" textLength="149.5" lengthAdjust="spacingAndGlyphs">Словаччина</text>
<use href="#thermo" transform="translate(815.3,11) translate(141.6,162.9) scale(1.02) translate(-141.6,-162.9)"/>
<g id="trophy">
<rect x="988" y="179" width="95" height="138" fill="#fff"/>
<!-- base -->
<path d="M1012.8 286 V309 a23.5 5 0 0 0 47 0 V286 Z" fill="url(#base)"/>
<ellipse cx="1036.3" cy="286" rx="23.5" ry="4.6" fill="#bf4a1d"/>
<path d="M1012.8 299.5 a23.5 5 0 0 0 47 0" fill="none" stroke="#8a2c0e" stroke-width="1.5"/>
<!-- stem + foot -->
<path d="M1029.5 251 C1031.5 258 1031.6 262 1031.4 266 C1030.5 274 1024 278 1018.5 281.5 V284.5 a17.9 3.8 0 0 0 35.8 0 V281.5 C1049 278 1042 274 1041.3 266 C1041 262 1041.2 258 1043 251 Z" fill="url(#gold)"/>
<ellipse cx="1036.2" cy="250" rx="7.6" ry="3" fill="#f0a814"/>
<!-- handles -->
<path d="M1015 193.5 C1011 186 1004 182.5 999 185.5 C993 189 993.5 199 997 206.5 C1001 215 1009 221 1016.5 223.8" fill="none" stroke="#f3b21a" stroke-width="4.4" stroke-linecap="round"/>
<path d="M1058.4 193.5 C1062.4 186 1069.4 182.5 1074.4 185.5 C1080.4 189 1079.9 199 1076.4 206.5 C1072.4 215 1064.4 221 1056.9 223.8" fill="none" stroke="#f3b21a" stroke-width="4.4" stroke-linecap="round"/>
<!-- cup -->
<path d="M1013.5 187 L1059.9 187 C1059.5 205 1058 222 1055 231 C1052 241 1047 246 1043.5 248 L1029 248 C1025 246 1020 241 1017.5 231 C1015 222 1013.8 205 1013.5 187 Z" fill="url(#gold)"/>
<ellipse cx="1036.7" cy="187.2" rx="23.2" ry="2.6" fill="#f7bc22"/>
<path d="M1023.6 197 C1022.4 206 1022.8 215 1024.6 222" fill="none" stroke="#ffe98c" stroke-width="3.4" stroke-linecap="round" opacity="0.9"/>
</g>

<g id="webcam" transform="translate(1525,138)">
<g clip-path="url(#vc)">
<rect x="0" y="0" width="257" height="145.5" fill="#dcd8cb"/>
<rect x="160" y="-20" width="120" height="190" fill="#e5e7e3" filter="url(#b6)"/>
<rect x="-20" y="85" width="130" height="80" fill="#d3cdbb" filter="url(#b6)"/>
<rect x="-10" y="-10" width="14" height="170" fill="#cfc8b4" filter="url(#b3)"/>
<!-- brown blotches on wall -->
<g filter="url(#b3)">
<ellipse cx="33" cy="8" rx="21" ry="8" fill="#6f5533"/>
<ellipse cx="34" cy="26" rx="6" ry="14" fill="#8f7044"/>
<ellipse cx="42" cy="62" rx="20" ry="5" fill="#a48c66"/>
<ellipse cx="80" cy="22" rx="5" ry="6" fill="#b9aa8a"/>
<ellipse cx="82" cy="42" rx="5" ry="5" fill="#b8ab90"/>
<ellipse cx="112" cy="22" rx="9" ry="7" fill="#c2b597"/>
<ellipse cx="8" cy="40" rx="5" ry="12" fill="#c4bba0"/>
<ellipse cx="60" cy="5" rx="10" ry="4" fill="#a8946c"/>
</g>
<g filter="url(#b1)">
<!-- suit -->
<path d="M40 150 C55 134 82 122 112 115 L140 128 L173 108 C196 112 226 119 236 132 L246 150 Z" fill="#303034"/>
<!-- shirt -->
<path d="M116 150 L118 124 L140 136 L166 118 L170 150 Z" fill="#b8c4e2"/>
<path d="M163 150 L165 117 L171 112 L170 150 Z" fill="#dfe5f2"/>
<path d="M150 150 L152 140 L158 150 Z" fill="#2a2c3c"/>
<!-- neck/face -->
<path d="M106 57 C104 44 120 38 140 38 C160 38 172 50 173 66 C174 84 172 102 166 118 C160 130 150 139 140 139 C128 139 120 130 116 118 C110 100 107 80 106 57 Z" fill="#b38c7a"/>
<path d="M132 50 C150 46 168 56 169 76 C170 96 166 116 156 128 C150 134 146 120 146 104 C146 88 138 70 132 50 Z" fill="#c09a88" opacity="0.8"/>
<path d="M106 60 C108 84 111 104 117 120 C120 128 126 134 130 136 C124 120 120 100 118 84 C117 74 112 66 106 60 Z" fill="#9a7566" opacity="0.7"/>
<!-- hair -->
<path d="M103.6 47 C104 36 116 27 141 24.4 C160 25 176 36 180 50 C183 62 181 76 176.5 86 C175 90 172 88 171.8 82.8 C171 72 166 60 158 55 C150 50 140 47 131 48 C120 49 112 53 105.5 58 C104 56 103.4 52 103.6 47 Z" fill="#4a3b36"/>
</g><g filter="url(#b2)"><!-- brows & eyes -->
<path d="M109 74 C113 71 120 71 125 73" stroke="#5b4238" stroke-width="3" fill="none"/>
<path d="M137 73 C143 70 152 71 158 75" stroke="#5b4238" stroke-width="3.2" fill="none"/>
<ellipse cx="117" cy="80.5" rx="6.5" ry="3.2" fill="#5a433b"/>
<ellipse cx="146" cy="81.5" rx="7.5" ry="3.4" fill="#5a433b"/>
<!-- nose & mouth -->
<path d="M127 84 C125 92 124 98 126 101 C129 103 133 102 135 100" stroke="#8f685a" stroke-width="3" fill="none"/>
<ellipse cx="132" cy="115.5" rx="10" ry="4" fill="#643c38"/>
<ellipse cx="133" cy="121" rx="8" ry="2.2" fill="#a47868"/>
<ellipse cx="174" cy="84" rx="3" ry="7" fill="#a88270"/>
<ellipse cx="128" cy="62" rx="14" ry="5" fill="#c29c8a" opacity="0.7"/>
<ellipse cx="152" cy="100" rx="9" ry="10" fill="#c49c8a" opacity="0.6"/>
<ellipse cx="113" cy="100" rx="4" ry="16" fill="#8f6a5c" opacity="0.6"/>
</g>
</g>
<path d="M0 131 a4.5 4.5 0 0 1 4.5 -4.5 H110 a3.5 3.5 0 0 1 3.5 3.5 V145.5 H0 Z" fill="#2b2a2a" opacity="0.84"/>
<text x="3.8" y="140.6" font-size="11.3" class="ls" fill="#fff" textLength="103" lengthAdjust="spacingAndGlyphs">Oleksandr FAICHUK</text>
</g>

<text x="977.6" y="884.1" font-size="29.4" fill="#111" class="ls" textLength="78.5" lengthAdjust="spacingAndGlyphs" >Рис. 4.</text>
<text x="1065.8" y="884.1" font-size="29.4" fill="#1c1c1c" class="lt" textLength="677" lengthAdjust="spacingAndGlyphs" >Країни з найбільшим зростанням температури повітря</text>
<text x="977.6" y="918" font-size="29.4" fill="#1c1c1c" class="lt" textLength="416.8" lengthAdjust="spacingAndGlyphs" >над земною поверхнею у 2024 р.</text>
<text x="977.6" y="971.6" font-size="22.9" fill="#2e2e2e" class="lt2" textLength="140" lengthAdjust="spacingAndGlyphs" >Джерело: FAO</text>
</svg>
</body></html>
